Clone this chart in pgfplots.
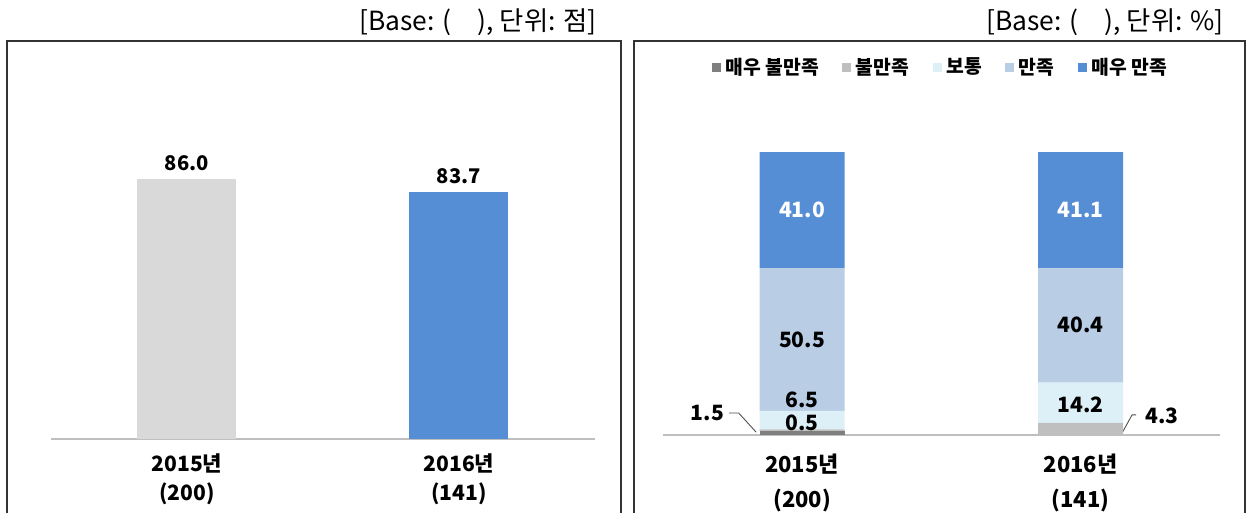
\documentclass[border=0pt]{standalone}
\usepackage{pgfplots}
\pgfplotsset{compat=1.18}
\usepackage{fontspec}
\setmainfont{Noto Sans CJK KR}

\definecolor{vdis}{HTML}{7F7F7F}
\definecolor{dis}{HTML}{BFBFBF}
\definecolor{mid}{HTML}{DDF0F7}
\definecolor{sat}{HTML}{B9CDE5}
\definecolor{vsat}{HTML}{558ED5}
\definecolor{barg}{HTML}{D9D9D9}
\definecolor{axisg}{HTML}{BFBFBF}

\tikzset{seglab/.style={font=\bfseries\fontsize{12}{14}\selectfont}}

\pgfplotsset{
  panel/.style={
    scale only axis,
    anchor=south west,
    xmin=-0.5, xmax=1.5,
    axis x line*=bottom, axis y line=none,
    x axis line style={-, axisg, line width=0.8pt},
    ytick=\empty,
    xtick={0,1},
    major x tick style={draw=none},
    extra x ticks={-0.5,0.5,1.5},
    extra x tick labels={},
    extra x tick style={tick align=outside, major tick length=0.12cm,
      major x tick style={axisg, line width=0.6pt}},
    /pgf/number format/assume math mode=true,
  },
}

\begin{document}
\begin{tikzpicture}[x=0.02cm, y=0.02cm]

% left panel: score
\begin{axis}[panel,
  at={(1.02cm,1.48cm)}, width=10.88cm, height=6.776cm,
  ymin=40, ymax=100,
  ybar, bar width=1.98cm, bar shift=0pt,
  xticklabels={{2015년\\(200)},{2016년\\(141)}},
  xticklabel style={align=center, font=\bfseries\fontsize{12}{16.5}\selectfont, yshift=-0.02cm},
  nodes near coords={\pgfmathprintnumber[fixed,fixed zerofill,precision=1]{\pgfplotspointmeta}},
  every node near coord/.append style={font=\bfseries\fontsize{11.5}{14}\selectfont, text=black, yshift=0.05cm},
]
\addplot[fill=barg, draw=none] coordinates {(0,86.0)};
\addplot[fill=vsat, draw=none] coordinates {(1,83.7)};
\end{axis}

% right panel: satisfaction distribution
\begin{axis}[panel,
  at={(13.26cm,1.56cm)}, width=11.14cm, height=5.66cm,
  ymin=0, ymax=100,
  ybar stacked, bar width=1.7cm,
  xticklabels={{2015년\\(200)},{2016년\\(141)}},
  xticklabel style={align=center, font=\bfseries\fontsize{12.5}{20}\selectfont, yshift=-0.26cm},
  legend columns=5,
  legend cell align=left,
  legend style={draw=none, at={(0.5,1.30)}, anchor=center,
    font=\bfseries\fontsize{11}{13}\selectfont,
    /tikz/every odd column/.append style={column sep=0.02cm},
    /tikz/every even column/.append style={column sep=0.40cm}},
  legend image code/.code={\fill[#1] (0cm,-0.09cm) rectangle (0.18cm,0.09cm);},
]
\addplot[fill=vdis, draw=none] coordinates {(0,1.5) (1,0)};
\addplot[fill=dis, draw=none] coordinates {(0,0.5) (1,4.3)};
\addplot[fill=mid, draw=none] coordinates {(0,6.5) (1,14.2)};
\addplot[fill=sat, draw=none] coordinates {(0,50.5) (1,40.4)};
\addplot[fill=vsat, draw=none] coordinates {(0,41.0) (1,41.1)};
\legend{매우 불만족, 불만족, 보통, 만족, 매우 만족}

\coordinate (a410) at (axis cs:0,79.5);
\coordinate (b411) at (axis cs:1,79.45);
\coordinate (a505) at (axis cs:0,33.7);
\coordinate (b404) at (axis cs:1,38.9);
\coordinate (a65) at (axis cs:0,12.4);
\coordinate (a05) at (axis cs:0,4.2);
\coordinate (b142) at (axis cs:1,10.6);
\node[seglab, anchor=east] at (axis cs:-0.258,7.8) {1.5};
\node[seglab, anchor=west] at (axis cs:1.21,6.6) {4.3};
\draw[black!70, line width=0.5pt] (axis cs:-0.262,7.8) -- (axis cs:-0.228,7.8) -- (axis cs:-0.165,1.0);
\draw[black!70, line width=0.5pt] (axis cs:1.149,0.7) -- (axis cs:1.185,7.1) -- (axis cs:1.2,7.1);
\end{axis}

% labels inside the stacked segments, drawn over the bars
\node[seglab, text=white] at (a410) {41.0};
\node[seglab, text=white] at (b411) {41.1};
\node[seglab] at (a505) {50.5};
\node[seglab] at (b404) {40.4};
\node[seglab] at (a65) {6.5};
\node[seglab] at (a05) {0.5};
\node[seglab] at (b142) {14.2};

% panel frames and unit notes
\draw[black!80, line width=1pt] (7,-20) rectangle (621,472);
\draw[black!80, line width=1pt] (634,-20) rectangle (1245,472);
\node[anchor=east, font=\fontsize{15}{18}\selectfont] at (603,491) {[Base: (\quad ), 단위: 점]};
\node[anchor=east, font=\fontsize{15}{18}\selectfont] at (1230,491) {[Base: (\quad ), 단위: \%]};

\pgfresetboundingbox
\path[use as bounding box] (0,0) rectangle (1247,513);
\end{tikzpicture}
\end{document}
